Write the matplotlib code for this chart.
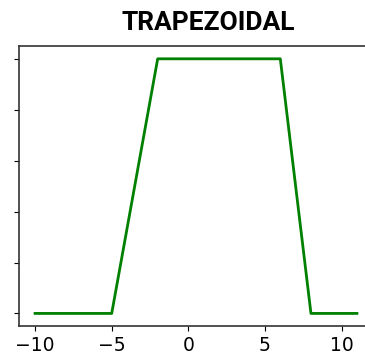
import numpy as np
import matplotlib
matplotlib.use("Agg")
import matplotlib.pyplot as plt

# ==============================
# DATA
# ==============================
x_points = [-10, -5, -2, 6, 8, 11]
membership = [0, 0, 1, 1, 0, 0]
x_ticks = [-10, -5, 0, 5, 10]
y_ticks = [0, 0.2, 0.4, 0.6, 0.8, 1.0]

# ==============================
# PLOT
# ==============================
fig = plt.figure(figsize=(3.65, 3.6), dpi=100)
ax = fig.add_axes([0.052, 0.094, 0.97, 0.778])

ax.plot(x_points, membership, color="green", linewidth=2)
ax.set_xlim(-11.05, 12.05)
ax.set_ylim(-0.05, 1.05)
ax.set_xticks(x_ticks)
ax.set_yticks(y_ticks)
ax.set_yticklabels([])
ax.tick_params(axis="x", labelsize=13.5)
ax.spines["right"].set_visible(False)
for s in ["left", "top", "bottom"]:
    ax.spines[s].set_color("#333333")
    ax.spines[s].set_linewidth(1.2)

fig.text(0.57, 0.935, "TRAPEZOIDAL", ha="center", va="center",
         fontsize=19, fontweight="bold",
         family=["Roboto", "DejaVu Sans"])

fig.savefig("out.png", dpi=100)
